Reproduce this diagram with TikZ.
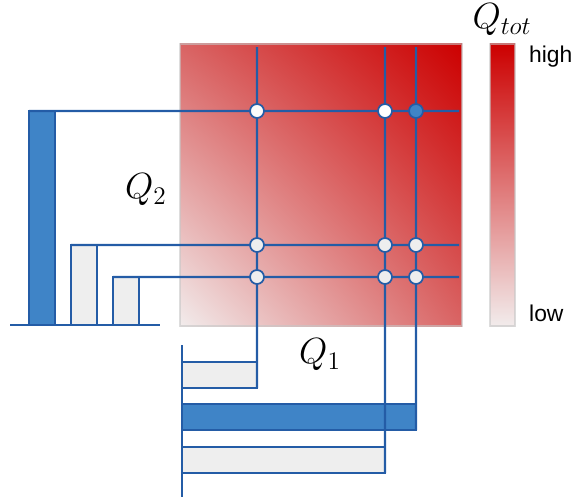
\documentclass[tikz,border=0pt]{standalone}
\usepackage{fontspec}
\newfontfamily\labelfont{Liberation Sans}
\usetikzlibrary{positioning,shadings}
\definecolor{qblue}{HTML}{245CA6}
\definecolor{qbar}{HTML}{3F84C7}
\definecolor{qlight}{HTML}{EEEEEE}
\definecolor{qred}{HTML}{CC0000}
\definecolor{qlow}{HTML}{F2ECEC}
\definecolor{qmid}{HTML}{D96464}
\tikzstyle{gridline} = [qblue, line width=1.3pt]
\tikzstyle{bar} = [draw=qblue, line width=1.3pt, inner sep=0pt, outer sep=0pt]
\tikzstyle{pt} = [circle, draw=qblue, line width=1pt, fill=qlight, minimum size=0.28cm, inner sep=0pt]
\tikzstyle{qlabel} = [font=\fontsize{22}{24}\selectfont]
\tikzstyle{scalelabel} = [anchor=west, font=\labelfont\fontsize{13}{15}\selectfont]

\begin{document}
\begin{tikzpicture}[x=0.02cm, y=0.02cm]
        \useasboundingbox (0,0) rectangle (571,498);

        \shade[upper right=qred, lower left=qlow, upper left=qmid, lower right=qmid] (180,172) rectangle (462,454);
        \draw[gray!45, line width=0.8pt, opacity=0.6] (180,172) rectangle (462,454);
        \shade[top color=qred, bottom color=qlow] (490,172) rectangle (515,454);
        \draw[gray!45, line width=0.8pt, opacity=0.6] (490,172) rectangle (515,454);

        \node[scalelabel] (high) at (523,441) {high};
        \node[scalelabel] (low) at (523,185) {low};
        \node[qlabel] (qtot) at (502,478) {$Q_{tot}$};
        \node[qlabel] (q2) at (146,308) {$Q_2$};
        \node[qlabel] (q1) at (320,143) {$Q_1$};

        \draw[gridline] (10,173) -- (160,173);
        \draw[gridline] (182,153) -- (182,1);

        \node[bar, fill=qbar, anchor=south west, minimum width=0.52cm, minimum height=4.28cm] (qA) at (29,173) {};
        \node[bar, fill=qlight, anchor=south west, minimum width=0.52cm, minimum height=1.6cm] (qB) at (71,173) {};
        \node[bar, fill=qlight, anchor=south west, minimum width=0.52cm, minimum height=0.96cm] (qC) at (113,173) {};

        \node[bar, fill=qlight, anchor=north west, minimum width=1.5cm, minimum height=0.52cm] (p1) at (182,136) {};
        \node[bar, fill=qbar, anchor=north west, minimum width=4.68cm, minimum height=0.52cm] (p2) at (182,94) {};
        \node[bar, fill=qlight, anchor=north west, minimum width=4.06cm, minimum height=0.52cm] (p3) at (182,51) {};

        \coordinate (r1) at (459,387);
        \coordinate (r2) at (459,253);
        \coordinate (r3) at (459,221);
        \coordinate (t1) at (257,451);
        \coordinate (t2) at (385,451);
        \coordinate (t3) at (416,451);

        \draw[gridline] (qA.north west) -- (r1);
        \draw[gridline] (qB.north west) -- (r2);
        \draw[gridline] (qC.north west) -- (r3);
        \draw[gridline] (t1) -- (p1.south east);
        \draw[gridline] (t2) -- (p3.south east);
        \draw[gridline] (t3) -- (p2.south east);

        \node[pt, fill=white!97!gray] (c11) at (257,387) {};
        \node[pt, fill=white] (c12) at (385,387) {};
        \node[pt, fill=qbar] (c13) at (416,387) {};
        \node[pt] (c21) at (257,253) {};
        \node[pt] (c22) at (385,253) {};
        \node[pt] (c23) at (416,253) {};
        \node[pt] (c31) at (257,221) {};
        \node[pt] (c32) at (385,221) {};
        \node[pt] (c33) at (416,221) {};
    \end{tikzpicture}
\end{document}
